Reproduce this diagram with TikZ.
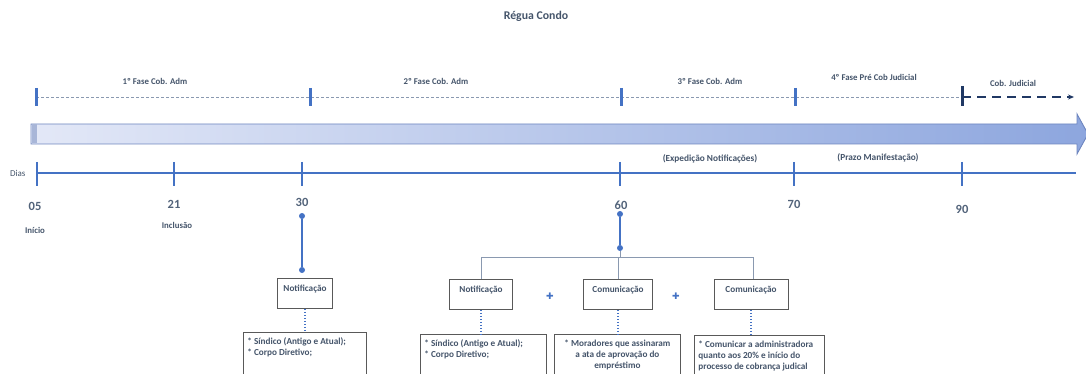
\documentclass[tikz,border=0pt]{standalone}
\usepackage{fontspec}
\setmainfont{Carlito}
\newfontfamily\simbolos{DejaVu Sans}
\usetikzlibrary{arrows.meta}

\definecolor{txt}{HTML}{44546A}
\definecolor{numero}{HTML}{52637A}
\definecolor{linha}{HTML}{4472C4}
\definecolor{escuro}{HTML}{203864}
\definecolor{borda}{HTML}{595959}
\definecolor{cinza}{HTML}{8A99B0}
\definecolor{barraA}{HTML}{E3E8F7}
\definecolor{barraB}{HTML}{8DA6DE}
\definecolor{barraC}{HTML}{6E86BF}

\begin{document}
\begin{tikzpicture}[x=1pt,y=-1pt,
  rotulo/.style={text=txt,font=\fontsize{8.8}{10}\selectfont\bfseries,inner sep=1pt},
  dia/.style={text=numero,font=\fontsize{12.5}{14}\selectfont\bfseries,inner sep=1pt},
  fase/.style={linha,line width=3pt},
  risco/.style={linha,line width=2.5pt},
  caixa/.style={draw=borda,line width=0.8pt,fill=white,text=txt,
    font=\fontsize{9.2}{11}\selectfont\bfseries,anchor=north,
    text height=10pt,text depth=14pt,inner ysep=3pt},
  lista/.style={draw=borda,line width=0.8pt,fill=white,text=txt,
    font=\fontsize{9.2}{11}\selectfont\bfseries,anchor=north west,
    inner xsep=4pt,inner ysep=4.5pt},
  ramo/.style={cinza,line width=0.8pt},
  pontilhado/.style={linha,line width=2pt,dash pattern=on 1.5pt off 1.5pt},
  ponto/.style={circle,fill=linha,inner sep=0pt,minimum size=6pt},
  mais/.style={text=linha,font=\fontsize{9}{9}\selectfont\simbolos,inner sep=0pt}]

\path[use as bounding box,clip] (0,0) rectangle (1086,374);

% titulo
\node[text=txt,font=\fontsize{11.8}{13}\selectfont\bfseries] (titulo) at (536,16) {Régua Condo};

% fases
\coordinate (p1) at (36,97);
\coordinate (p5) at (962,97);
\coordinate (p6) at (1074,97);
\draw[cinza,line width=0.6pt,dash pattern=on 3pt off 2pt] (p1) -- (p5);
\foreach \x in {36,310,621,795}
  \draw[fase] (\x,88) -- (\x,106);
\draw[escuro,line width=3pt] (962,86) -- (962,106);
\draw[escuro,line width=1.6pt,dash pattern=on 9pt off 6pt,-{Stealth[length=6pt,width=5pt]}] (p5) -- (p6);
\node[rotulo] (f1) at (155,81) {1º Fase Cob. Adm};
\node[rotulo] (f2) at (436,81) {2º Fase Cob. Adm};
\node[rotulo] (f3) at (710,81) {3º Fase Cob. Adm};
\node[rotulo] (f4) at (874,77) {4º Fase Pré Cob Judicial};
\node[rotulo] (f5) at (1013,83) {Cob. Judicial};

% barra
\shadedraw[left color=barraA,right color=barraB,draw=barraC,line width=0.9pt]
  (31,124) -- (1077,124) -- (1077,114) -- (1088,134) -- (1077,154) -- (1077,144) -- (31,144) -- cycle;
\fill[barraC!60] (31.5,124.5) rectangle (37,143.5);

% dias
\coordinate (d0) at (37,173);
\coordinate (d1) at (1076,173);
\draw[linha,line width=2.2pt] (d0) -- (d1);
\foreach \x in {37,174,302,620,794,962}
  \draw[risco] (\x,162) -- (\x,186);
\node[text=txt,font=\fontsize{9}{10}\selectfont,anchor=east] (dias) at (29,173) {Dias};
\node[rotulo,font=\fontsize{9.3}{10}\selectfont\bfseries] (expedicao) at (710,159) {(Expedição Notificações)};
\node[rotulo,font=\fontsize{9.3}{10}\selectfont\bfseries] (prazo) at (878,158) {(Prazo Manifestação)};

\node[dia] (n05) at (35,206) {05};
\node[dia] (n21) at (174,204) {21};
\node[dia] (n30) at (302,202) {30};
\node[dia] (n60) at (621,205) {60};
\node[dia] (n70) at (794,204) {70};
\node[dia] (n90) at (962,209) {90};
\node[rotulo] (inicio) at (35,230) {Início};
\node[rotulo] (inclusao) at (177,225) {Inclusão};

% dia 30
\node[ponto] (a30) at (302,216) {};
\node[ponto] (b30) at (302,270) {};
\draw[linha,line width=2pt] (a30) -- (b30);
\node[caixa,minimum width=55pt] (notif30) at (305,278) {Notificação};
\node[lista] (lista30) at (243,332)
  {\parbox[t][48pt][t]{115pt}{\strut* Síndico (Antigo e Atual);\\{}* Corpo Diretivo;}};
\draw[pontilhado] (notif30) -- (notif30 |- lista30.north);

% dia 60
\node[ponto] (a60) at (620,214) {};
\node[ponto] (b60) at (620,248) {};
\draw[linha,line width=2pt] (a60) -- (b60);
\coordinate (r60) at (620,257);
\coordinate (r60e) at (481,257);
\coordinate (r60d) at (753,257);
\node[caixa,minimum width=63pt] (notif60) at (481,279) {Notificação};
\node[caixa,minimum width=69pt] (com60) at (618,279) {Comunicação};
\node[caixa,minimum width=74pt] (adm60) at (751,279) {Comunicação};
\draw[ramo] (b60) -- (r60);
\draw[ramo] (notif60.north) -- (r60e) -- (r60d) -- (r60d |- adm60.north);
\draw[ramo] (com60.north) -- (com60 |- r60);
\node[mais] (mais1) at (550,296) {✚};
\node[mais] (mais2) at (676,296) {✚};

\node[lista] (lista60) at (420,334)
  {\parbox[t][48pt][t]{118pt}{\strut* Síndico (Antigo e Atual);\\{}* Corpo Diretivo;}};
\node[lista] (moradores) at (554,334)
  {\parbox[t][48pt][t]{118pt}{\centering\strut* Moradores que assinaram\\a ata de aprovação do\\empréstimo}};
\node[lista] (administradora) at (694,335)
  {\parbox[t][48pt][t]{122pt}{\strut* Comunicar a administradora\\quanto aos 20\% e início do\\processo de cobrança judical}};
\draw[pontilhado] (notif60) -- (notif60 |- lista60.north);
\draw[pontilhado] (com60) -- (com60 |- moradores.north);
\draw[pontilhado] (adm60) -- (adm60 |- administradora.north);
\end{tikzpicture}
\end{document}
